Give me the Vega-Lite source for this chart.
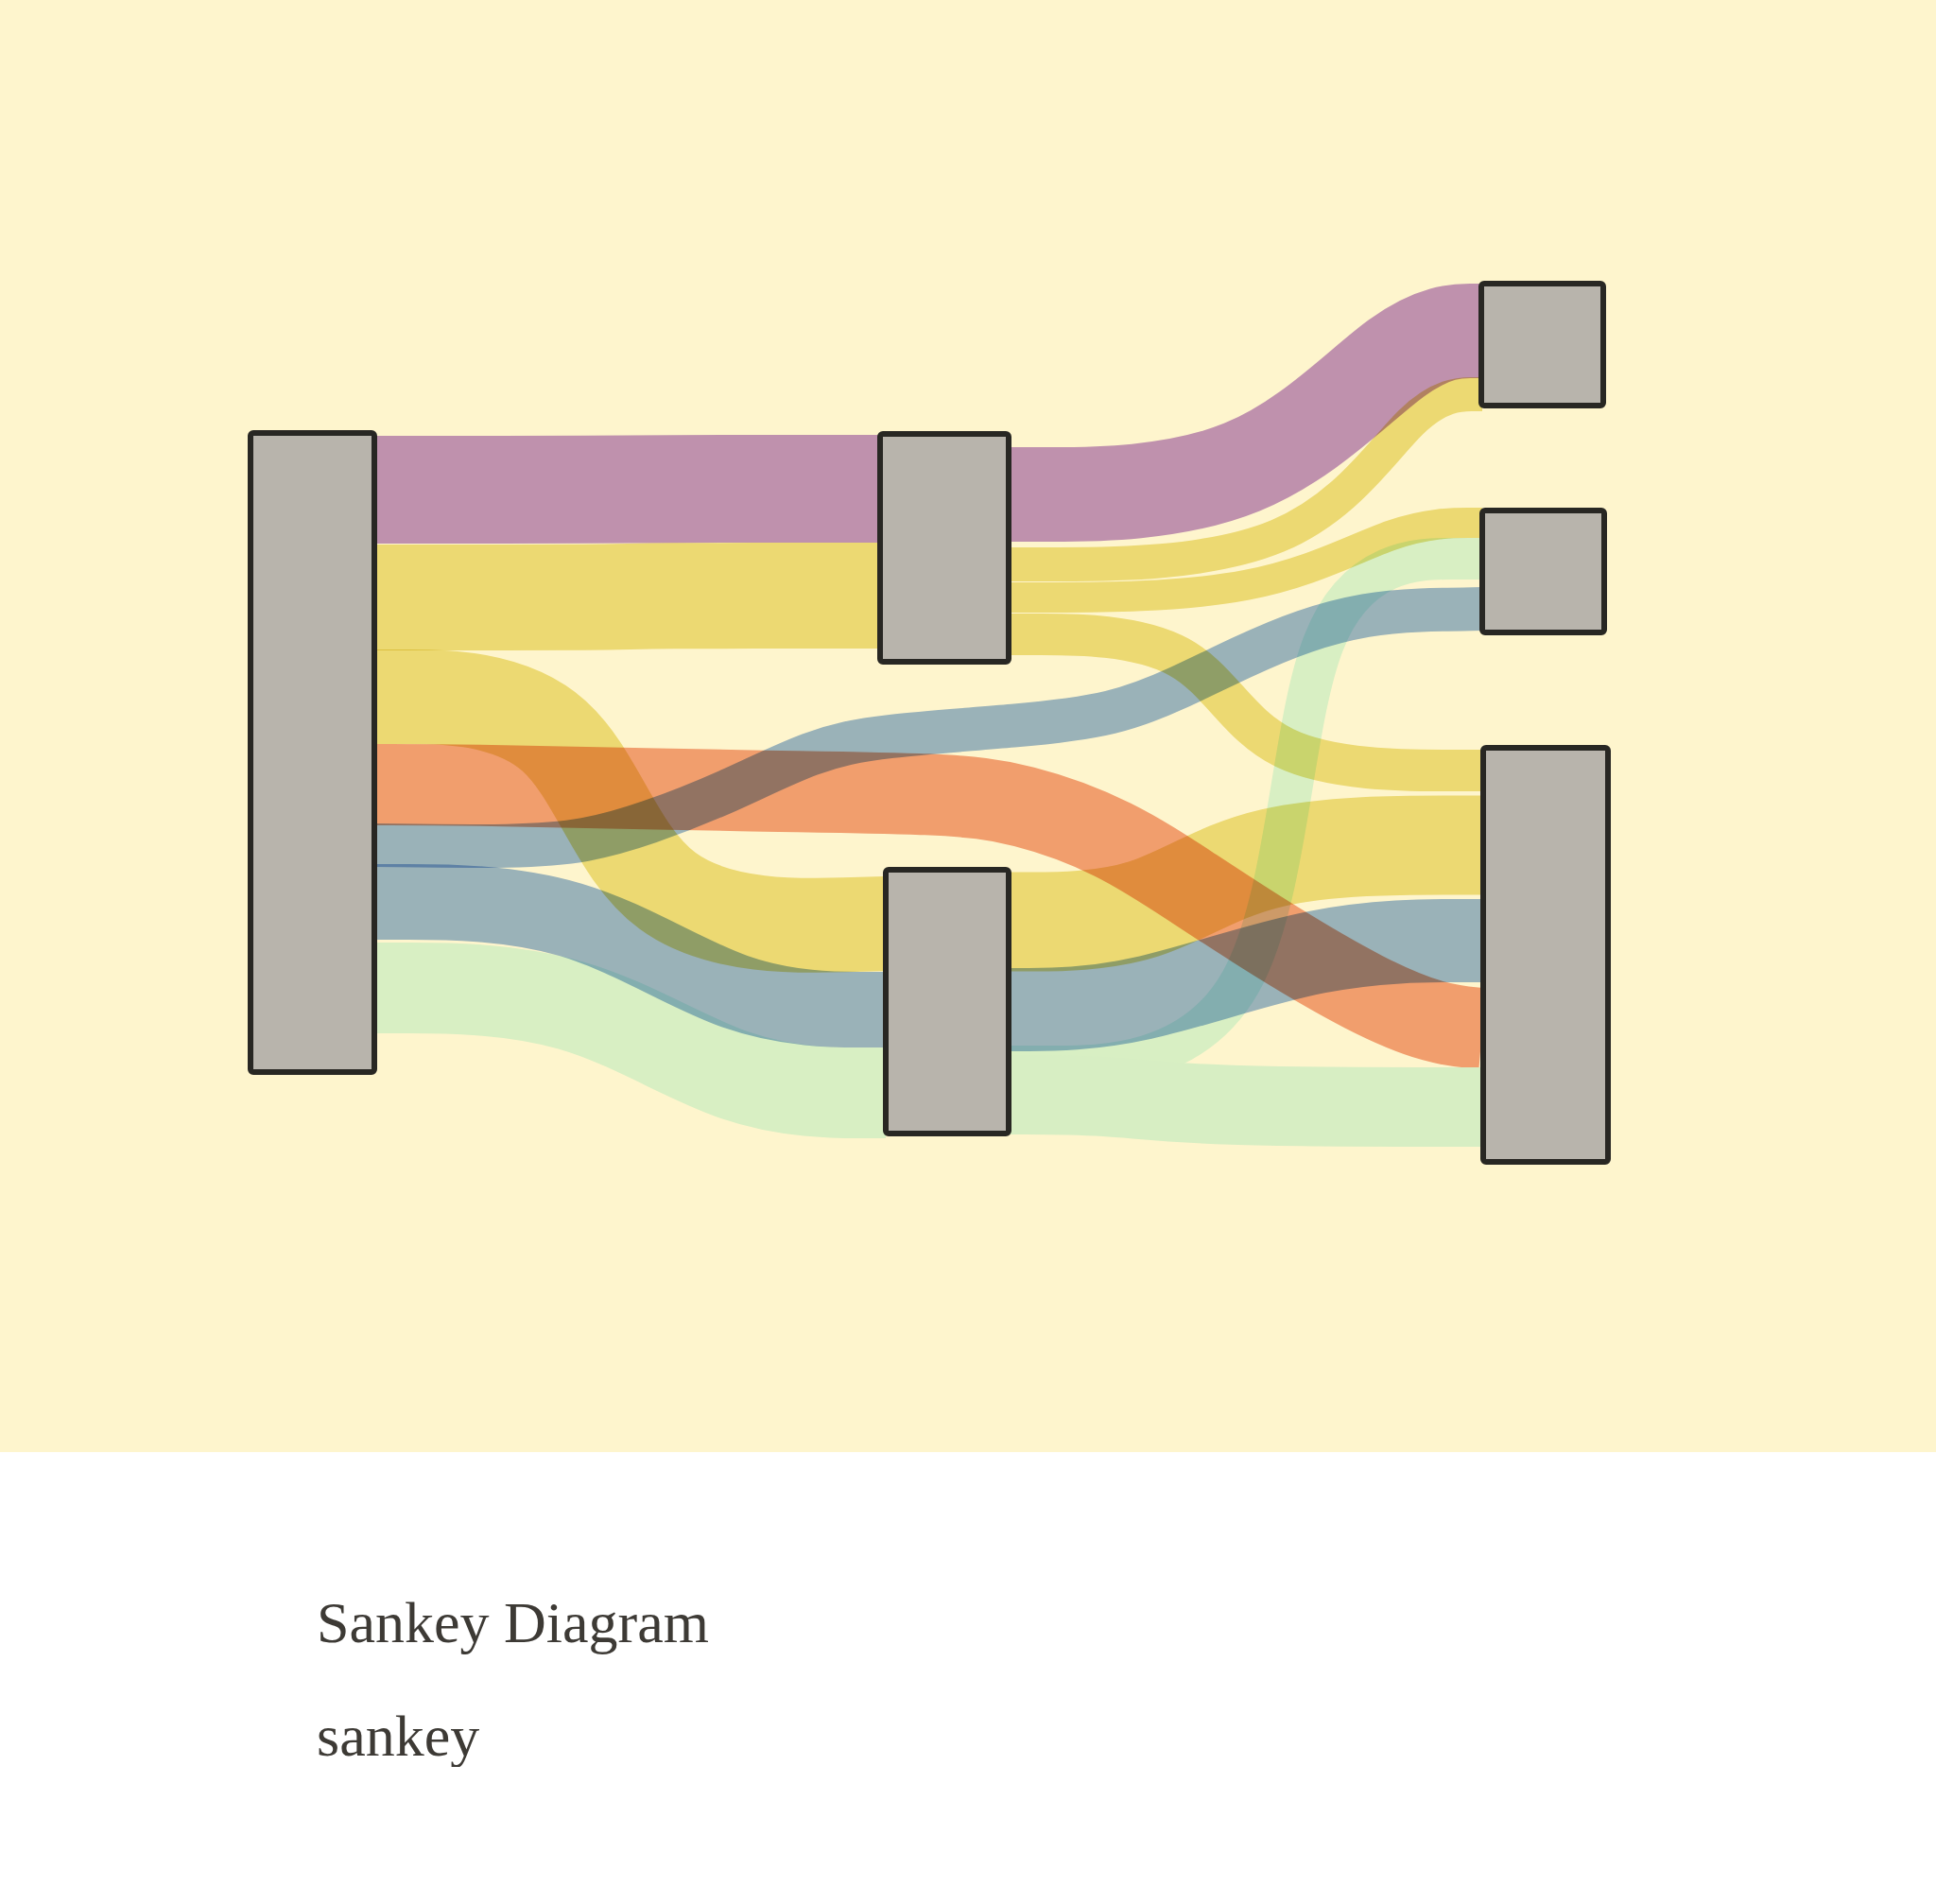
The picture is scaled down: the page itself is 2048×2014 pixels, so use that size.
{
  "$schema": "https://vega.github.io/schema/vega-lite/v6.json",
  "width": 2048,
  "height": 1536,
  "padding": 0,
  "background": "white",
  "config": {
    "font": "Liberation Serif",
    "view": {"fill": "#FEF5CD", "stroke": null}
  },
  "title": {
    "text": "Sankey Diagram",
    "subtitle": "sankey",
    "orient": "bottom",
    "anchor": "start",
    "frame": "group",
    "baseline": "top",
    "dx": 335,
    "offset": 152,
    "font": "Liberation Serif",
    "subtitleFont": "Liberation Serif",
    "fontSize": 62,
    "subtitleFontSize": 62,
    "fontWeight": "normal",
    "color": "#3D3A35",
    "subtitleColor": "#3D3A35",
    "subtitlePadding": 58
  },
  "datasets": {
    "nodes": [
      {"node": "A", "x0": 265, "x1": 396, "y0": 458, "y1": 1134},
      {"node": "B", "x0": 931, "x1": 1067, "y0": 459, "y1": 700},
      {"node": "C", "x0": 937, "x1": 1067, "y0": 920, "y1": 1199},
      {"node": "D", "x0": 1567, "x1": 1696, "y0": 300, "y1": 429},
      {"node": "E", "x0": 1568, "x1": 1697, "y0": 540, "y1": 669},
      {"node": "F", "x0": 1569, "x1": 1701, "y0": 791, "y1": 1229}
    ],
    "links": [
      {"link": "A-B1", "color": "purple", "w": 114, "i": 0, "x": 396, "y": 518},
      {"link": "A-B1", "color": "purple", "w": 114, "i": 1, "x": 660, "y": 518},
      {"link": "A-B1", "color": "purple", "w": 114, "i": 2, "x": 670, "y": 517},
      {"link": "A-B1", "color": "purple", "w": 114, "i": 3, "x": 933, "y": 517},

      {"link": "A-B2", "color": "yellow", "w": 112, "i": 0, "x": 396, "y": 632},
      {"link": "A-B2", "color": "yellow", "w": 112, "i": 1, "x": 660, "y": 632},
      {"link": "A-B2", "color": "yellow", "w": 112, "i": 2, "x": 670, "y": 630},
      {"link": "A-B2", "color": "yellow", "w": 112, "i": 3, "x": 933, "y": 630},

      {"link": "A-C1", "color": "yellow", "w": 100, "i": 0, "x": 396, "y": 737},
      {"link": "A-C1", "color": "yellow", "w": 100, "i": 1, "x": 612, "y": 737},
      {"link": "A-C1", "color": "yellow", "w": 100, "i": 2, "x": 672, "y": 985},
      {"link": "A-C1", "color": "yellow", "w": 100, "i": 3, "x": 937, "y": 977},

      {"link": "A-F", "color": "orange", "w": 86, "i": 0, "x": 396, "y": 830},
      {"link": "A-F", "color": "orange", "w": 86, "i": 1, "x": 500, "y": 830},
      {"link": "A-F", "color": "orange", "w": 86, "i": 2, "x": 800, "y": 837},
      {"link": "A-F", "color": "orange", "w": 86, "i": 3, "x": 1000, "y": 839},
      {"link": "A-F", "color": "orange", "w": 86, "i": 4, "x": 1080, "y": 849},
      {"link": "A-F", "color": "orange", "w": 86, "i": 5, "x": 1180, "y": 885},
      {"link": "A-F", "color": "orange", "w": 86, "i": 6, "x": 1263, "y": 940},
      {"link": "A-F", "color": "orange", "w": 86, "i": 7, "x": 1347, "y": 995},
      {"link": "A-F", "color": "orange", "w": 86, "i": 8, "x": 1447, "y": 1054},
      {"link": "A-F", "color": "orange", "w": 86, "i": 9, "x": 1520, "y": 1084},
      {"link": "A-F", "color": "orange", "w": 86, "i": 10, "x": 1568, "y": 1088},

      {"link": "A-E", "color": "blue", "w": 46, "i": 0, "x": 396, "y": 894},
      {"link": "A-E", "color": "blue", "w": 46, "i": 1, "x": 550, "y": 896},
      {"link": "A-E", "color": "blue", "w": 46, "i": 2, "x": 620, "y": 890},
      {"link": "A-E", "color": "blue", "w": 46, "i": 3, "x": 683, "y": 872},
      {"link": "A-E", "color": "blue", "w": 46, "i": 4, "x": 770, "y": 838},
      {"link": "A-E", "color": "blue", "w": 46, "i": 5, "x": 860, "y": 793},
      {"link": "A-E", "color": "blue", "w": 46, "i": 6, "x": 930, "y": 778},
      {"link": "A-E", "color": "blue", "w": 46, "i": 7, "x": 1080, "y": 768},
      {"link": "A-E", "color": "blue", "w": 46, "i": 8, "x": 1180, "y": 756},
      {"link": "A-E", "color": "blue", "w": 46, "i": 9, "x": 1247, "y": 728},
      {"link": "A-E", "color": "blue", "w": 46, "i": 10, "x": 1313, "y": 695},
      {"link": "A-E", "color": "blue", "w": 46, "i": 11, "x": 1380, "y": 666},
      {"link": "A-E", "color": "blue", "w": 46, "i": 12, "x": 1447, "y": 649},
      {"link": "A-E", "color": "blue", "w": 46, "i": 13, "x": 1500, "y": 645},
      {"link": "A-E", "color": "blue", "w": 46, "i": 14, "x": 1568, "y": 644},

      {"link": "A-C2", "color": "blue", "w": 80, "i": 0, "x": 396, "y": 954},
      {"link": "A-C2", "color": "blue", "w": 80, "i": 1, "x": 612, "y": 954},
      {"link": "A-C2", "color": "blue", "w": 80, "i": 2, "x": 780, "y": 1068},
      {"link": "A-C2", "color": "blue", "w": 80, "i": 3, "x": 937, "y": 1068},

      {"link": "A-C3", "color": "green", "w": 96, "i": 0, "x": 396, "y": 1045},
      {"link": "A-C3", "color": "green", "w": 96, "i": 1, "x": 612, "y": 1045},
      {"link": "A-C3", "color": "green", "w": 96, "i": 2, "x": 780, "y": 1156},
      {"link": "A-C3", "color": "green", "w": 96, "i": 3, "x": 937, "y": 1156},

      {"link": "B-D1", "color": "purple", "w": 100, "i": 0, "x": 1067, "y": 523},
      {"link": "B-D1", "color": "purple", "w": 100, "i": 1, "x": 1331, "y": 523},
      {"link": "B-D1", "color": "purple", "w": 100, "i": 2, "x": 1491, "y": 350},
      {"link": "B-D1", "color": "purple", "w": 100, "i": 3, "x": 1568, "y": 350},

      {"link": "B-D2", "color": "yellow", "w": 36, "i": 0, "x": 1067, "y": 597},
      {"link": "B-D2", "color": "yellow", "w": 36, "i": 1, "x": 1385, "y": 597},
      {"link": "B-D2", "color": "yellow", "w": 36, "i": 2, "x": 1500, "y": 417},
      {"link": "B-D2", "color": "yellow", "w": 36, "i": 3, "x": 1568, "y": 417},

      {"link": "B-E", "color": "yellow", "w": 32, "i": 0, "x": 1067, "y": 632},
      {"link": "B-E", "color": "yellow", "w": 32, "i": 1, "x": 1341, "y": 632},
      {"link": "B-E", "color": "yellow", "w": 32, "i": 2, "x": 1481, "y": 553},
      {"link": "B-E", "color": "yellow", "w": 32, "i": 3, "x": 1568, "y": 553},

      {"link": "B-F", "color": "yellow", "w": 44, "i": 0, "x": 1067, "y": 671},
      {"link": "B-F", "color": "yellow", "w": 44, "i": 1, "x": 1272, "y": 671},
      {"link": "B-F", "color": "yellow", "w": 44, "i": 2, "x": 1328, "y": 815},
      {"link": "B-F", "color": "yellow", "w": 44, "i": 3, "x": 1568, "y": 815},

      {"link": "C-F1", "color": "yellow", "w": 105, "i": 0, "x": 1067, "y": 975},
      {"link": "C-F1", "color": "yellow", "w": 105, "i": 1, "x": 1217, "y": 975},
      {"link": "C-F1", "color": "yellow", "w": 105, "i": 2, "x": 1323, "y": 894},
      {"link": "C-F1", "color": "yellow", "w": 105, "i": 3, "x": 1568, "y": 894},

      {"link": "C-F2", "color": "blue", "w": 88, "i": 0, "x": 1067, "y": 1068},
      {"link": "C-F2", "color": "blue", "w": 88, "i": 1, "x": 1197, "y": 1068},
      {"link": "C-F2", "color": "blue", "w": 88, "i": 2, "x": 1398, "y": 995},
      {"link": "C-F2", "color": "blue", "w": 88, "i": 3, "x": 1568, "y": 995},

      {"link": "C-E", "color": "green", "w": 44, "i": 0, "x": 1067, "y": 1128},
      {"link": "C-E", "color": "green", "w": 44, "i": 1, "x": 1360, "y": 1128},
      {"link": "C-E", "color": "green", "w": 44, "i": 2, "x": 1368, "y": 591},
      {"link": "C-E", "color": "green", "w": 44, "i": 3, "x": 1568, "y": 591},

      {"link": "C-F3", "color": "green", "w": 84, "i": 0, "x": 1067, "y": 1158},
      {"link": "C-F3", "color": "green", "w": 84, "i": 1, "x": 1170, "y": 1158},
      {"link": "C-F3", "color": "green", "w": 84, "i": 2, "x": 1270, "y": 1171},
      {"link": "C-F3", "color": "green", "w": 84, "i": 3, "x": 1568, "y": 1171}
    ]
  },
  "encoding": {
    "x": {"field": "x", "type": "quantitative", "axis": null, "scale": {"domain": [0, 2048], "nice": false, "zero": false}},
    "y": {"field": "y", "type": "quantitative", "axis": null, "scale": {"domain": [0, 1536], "nice": false, "zero": false, "reverse": true}}
  },
  "layer": [
    {
      "data": {"name": "links"},
      "transform": [{"filter": "datum.link !== 'C-F3'"}],
      "mark": {"type": "line", "interpolate": "basis", "blend": "multiply", "strokeCap": "butt"},
      "encoding": {
        "detail": {"field": "link"},
        "order": {"field": "i"},
        "color": {
          "field": "color",
          "type": "nominal",
          "legend": null,
          "scale": {
            "domain": ["purple", "yellow", "orange", "blue", "green"],
            "range": ["#C097D8", "#EDE28E", "#F2A588", "#9BB9E5", "#D9F9F3"]
          }
        },
        "strokeWidth": {"field": "w", "type": "quantitative", "legend": null, "scale": {"domain": [0, 200], "range": [0, 200]}}
      }
    },
    {
      "data": {"name": "links"},
      "transform": [{"filter": "datum.link === 'C-F3'"}],
      "mark": {"type": "line", "interpolate": "basis", "strokeCap": "butt", "color": "#D7EEC3"},
      "encoding": {
        "detail": {"field": "link"},
        "order": {"field": "i"},
        "strokeWidth": {"field": "w", "type": "quantitative", "legend": null, "scale": {"domain": [0, 200], "range": [0, 200]}}
      }
    },
    {
      "data": {"name": "nodes"},
      "mark": {"type": "rect", "fill": "#B8B4AC", "stroke": "#282723", "strokeWidth": 6, "cornerRadius": 3},
      "encoding": {
        "x": {"field": "x0", "type": "quantitative"},
        "x2": {"field": "x1"},
        "y": {"field": "y0", "type": "quantitative"},
        "y2": {"field": "y1"}
      }
    }
  ]
}
